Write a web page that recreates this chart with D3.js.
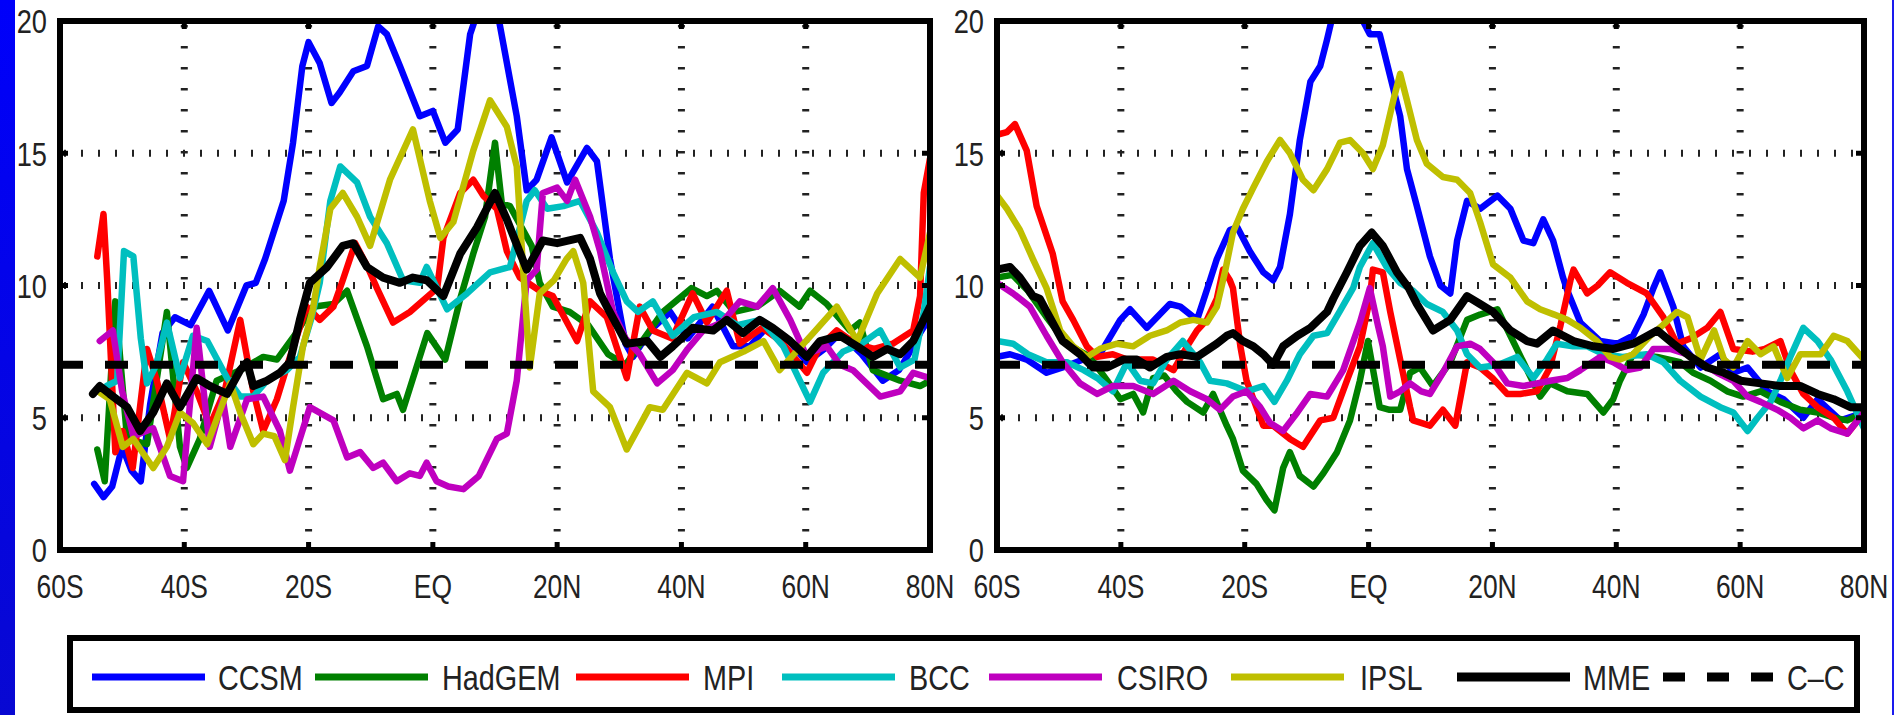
<!DOCTYPE html>
<html>
<head>
<meta charset="utf-8">
<script src="https://cdn.jsdelivr.net/npm/d3@7"></script>
<style>
  body { margin: 0; background: #fff; }
  text { font-family: "Liberation Sans", Arial, sans-serif; fill: #222; }
</style>
</head>
<body>
<div id="renderDiv"></div>
<script>
// ---- data: [latitude, value] ----
const latTicks = [-60, -40, -20, 0, 20, 40, 60, 80];
const latLabels = ["60S", "40S", "20S", "EQ", "20N", "40N", "60N", "80N"];
const yTicks = [0, 5, 10, 15, 20];
const ccValue = 7;

const modelNames = ["CCSM", "HadGEM", "MPI", "BCC", "CSIRO", "IPSL", "MME"];
const modelColors = ["#0000ff", "#008000", "#ff0000", "#00bfbf", "#bf00bf", "#bfbf00", "#000000"];

// left panel
const ccsmL = [[-54.5,2.5],[-53,2.0],[-51.6,2.4],[-50,3.9],[-48.5,3.0],[-47,2.6],[-45.5,5.5],[-43.5,8.2],[-41.5,8.8],[-39,8.5],[-36,9.8],[-33,8.3],[-30,10.0],[-28.5,10.1],[-27,11.0],[-24,13.2],[-22.5,15.4],[-21,18.3],[-20,19.2],[-18.2,18.4],[-16.3,16.9],[-15,17.3],[-12.8,18.1],[-10.6,18.3],[-8.8,19.8],[-7.4,19.5],[-5.3,18.3],[-2.1,16.4],[0,16.6],[2,15.4],[4,15.9],[6,19.5],[7,20.2],[9,20.6],[10.5,20.2],[13.5,16.4],[15.1,13.6],[16.7,14.0],[19.1,15.6],[21.6,13.9],[24.8,15.2],[26.4,14.7],[28.5,11.0],[31,7.8],[32.2,7.3],[35,8.3],[38.2,9.0],[41,8.0],[45,9.2],[48.3,7.7],[51,7.7],[54,8.5],[57,8.0],[60.2,7.1],[63,7.6],[65.5,8.2],[69,7.4],[72.4,6.4],[75,6.8],[76.3,7.3],[78.4,8.2],[80,8.8]];
const hadL = [[-54,3.8],[-52.8,2.6],[-51.1,9.4],[-49.2,4.2],[-46,4.0],[-42.8,9.0],[-40.7,3.9],[-39.6,3.1],[-37.5,4.2],[-34.8,6.4],[-31,6.8],[-27.3,7.3],[-25.1,7.2],[-22,8.2],[-19.3,9.2],[-16,9.3],[-13.8,9.8],[-10.6,7.7],[-8,5.7],[-5.8,5.9],[-4.8,5.3],[-0.9,8.2],[2,7.2],[4.4,9.5],[6.5,11.2],[8.4,12.6],[10,15.4],[11.1,13.1],[12.4,13.0],[15.9,11.5],[17.2,10.1],[19.3,9.2],[22,9.0],[25,8.5],[28.2,7.4],[31,7.0],[34,8.0],[37,9.0],[41.6,9.9],[44.1,9.6],[45.7,9.8],[48.5,9.0],[52.2,9.2],[55.8,9.8],[59,9.2],[60.7,9.8],[63.4,9.3],[67.1,8.3],[68.7,8.6],[70.8,6.8],[75.2,6.4],[78.4,6.2],[80,6.4]];
const mpiL = [[-54,11.1],[-53,12.7],[-52.4,10.2],[-51.1,3.7],[-49.9,4.5],[-48.3,3.1],[-46,7.6],[-44.4,6.4],[-42.3,4.2],[-40.2,7.1],[-38,6.0],[-35.9,4.7],[-33.5,6.0],[-31,8.7],[-28.9,6.0],[-27.3,4.5],[-25.1,5.7],[-23,7.3],[-20.3,9.2],[-18.2,8.7],[-16,9.2],[-14.5,10.2],[-12.5,11.6],[-10.5,10.7],[-9,9.9],[-6.4,8.6],[-3.7,9.0],[0.7,9.9],[1.7,11.8],[4.4,13.5],[6.5,14.0],[8.1,13.4],[10.3,12.9],[11.9,11.3],[14,10.3],[17.2,9.8],[19.3,9.6],[23.2,7.9],[25.3,9.4],[28,8.8],[31.2,6.5],[33.3,9.2],[35.4,8.3],[38.5,8.0],[41.8,9.7],[44.1,8.6],[47.3,9.8],[49.4,7.8],[53,8.4],[56,7.9],[60.2,6.7],[62.3,7.7],[65,8.3],[68,7.8],[71,7.6],[74,7.8],[77.3,8.3],[78.4,9.6],[79,13.5],[80,14.8]];
const bccL = [[-52.5,6.2],[-50.8,6.4],[-49.7,11.3],[-48.2,11.1],[-47,8.0],[-46,6.3],[-44.5,7.0],[-42.8,8.6],[-40.7,6.5],[-38.6,8.1],[-36.3,7.9],[-33.1,6.5],[-31,5.8],[-28.9,5.8],[-26.7,6.4],[-23.5,6.8],[-21.4,7.3],[-19.5,8.8],[-18.2,10.1],[-16.5,13.2],[-14.9,14.5],[-12.2,13.9],[-10.1,12.6],[-7.4,11.6],[-4.8,10.2],[-2.1,10.1],[-1,10.7],[2.3,9.1],[5.5,9.7],[9.2,10.5],[12.4,10.7],[15.1,13.2],[16.4,13.6],[18.4,12.9],[21,13.0],[23.7,13.2],[26.4,12.0],[29,10.5],[31.2,9.4],[33,9.0],[35.4,9.4],[38.6,8.1],[42,8.8],[45.7,9.0],[49,8.5],[52.7,8.7],[56.4,7.7],[60.7,5.6],[62.8,6.7],[66,7.5],[69,7.8],[72,8.3],[75.2,6.9],[77.5,7.2],[79,9.0],[80,10.7]];
const csiroL = [[-53.6,7.9],[-51.5,8.3],[-50,6.0],[-48.2,4.3],[-45,4.6],[-42.3,2.8],[-40.2,2.6],[-38,8.4],[-35.9,3.9],[-33.8,5.7],[-32.6,3.9],[-29.9,5.7],[-27.3,5.8],[-24.6,4.5],[-23,3.0],[-19.8,5.4],[-16,4.9],[-13.8,3.5],[-11.7,3.7],[-9.6,3.1],[-8,3.3],[-5.8,2.6],[-3.7,2.9],[-2.1,2.8],[-1,3.3],[0.6,2.6],[2.5,2.4],[4.9,2.3],[7.4,2.8],[10.3,4.2],[11.9,4.4],[13.5,6.4],[15.1,10.2],[16.7,10.6],[17.7,13.5],[20,13.7],[21.6,13.2],[22.9,14.0],[25.3,12.6],[26.9,11.3],[29,9.0],[31,8.0],[33.3,7.4],[36.1,6.3],[38.6,6.8],[41,7.6],[43.5,8.3],[46.5,8.6],[49.4,9.4],[52.2,9.2],[54.7,9.9],[57.5,8.7],[60,7.4],[63.4,7.7],[65.5,7.0],[67.6,6.8],[72,5.8],[75.2,6.0],[77.3,6.7],[80,6.5]];
const ipslL = [[-53.9,6.0],[-52,5.7],[-49.9,3.9],[-48.2,4.2],[-45,3.1],[-42.8,3.9],[-40.7,5.2],[-38.6,4.8],[-36.3,4.0],[-32.6,6.3],[-31,5.2],[-28.9,4.0],[-27.3,4.4],[-25.5,4.3],[-23.8,3.4],[-22.5,5.4],[-20.9,7.7],[-19.3,9.1],[-18.2,10.7],[-16.5,12.9],[-14.5,13.5],[-12.2,12.6],[-10.1,11.5],[-6.9,14.0],[-3.2,15.9],[-0.5,13.2],[1.2,11.8],[3.3,12.4],[6.5,15.1],[9.2,17.0],[11.9,16.0],[13.5,14.5],[14.5,10.7],[15.6,6.9],[17.2,9.7],[19.5,10.2],[21.5,11.0],[22.6,11.3],[24.2,10.1],[25.8,6.0],[28.5,5.4],[31.2,3.8],[34.9,5.4],[37,5.3],[40.9,6.7],[44.1,6.3],[46.2,7.1],[50,7.5],[53.2,7.9],[55.8,6.8],[58.5,7.5],[61.2,8.2],[65,9.2],[68.3,7.9],[71.5,9.7],[75.2,11.0],[78.4,10.3],[80,12.0]];
const mmeL = [[-54.7,5.9],[-53.6,6.2],[-52,5.9],[-49.2,5.4],[-47.1,4.5],[-45,5.2],[-42.8,6.3],[-40.7,5.4],[-38,6.5],[-35.9,6.2],[-33.1,5.9],[-31,6.8],[-29.9,7.1],[-28.9,6.2],[-26.7,6.4],[-24.6,6.7],[-23,7.1],[-21.4,8.7],[-19.8,10.1],[-17,10.7],[-14.5,11.5],[-12.8,11.6],[-10.6,10.7],[-8,10.3],[-5.3,10.1],[-3.2,10.3],[-1,10.2],[1.7,9.6],[4.4,11.2],[7.1,12.2],[10,13.5],[11.9,12.5],[15.1,10.6],[17.7,11.7],[20,11.6],[23.7,11.8],[25.3,11.0],[26.9,9.7],[28,9.2],[31.2,7.8],[34.5,7.9],[36.6,7.3],[38.6,7.7],[41.8,8.4],[45.1,8.3],[47.3,8.7],[49.9,8.2],[52.6,8.7],[54.7,8.4],[57.5,7.9],[60.2,7.3],[62.3,7.9],[65.5,8.1],[68.3,7.7],[70.8,7.3],[73.1,7.6],[75.2,7.4],[77.3,7.9],[80,9.2]];

// right panel
const ccsmR = [[-60,7.3],[-57.9,7.4],[-55.2,7.2],[-52,6.7],[-49.4,6.9],[-46.1,7.2],[-43.4,7.4],[-40.1,8.7],[-38.5,9.1],[-35.8,8.4],[-32.1,9.3],[-30.4,9.2],[-27.7,8.7],[-25.6,10.2],[-24.5,11.0],[-22.4,12.1],[-21.2,12.2],[-19.2,11.3],[-17,10.5],[-15.4,10.2],[-14.3,10.7],[-12.7,12.7],[-11.1,15.5],[-9.4,17.7],[-7.8,18.3],[-6.7,19.3],[-5.5,20.5],[-3.5,21.5],[-1.5,20.5],[-0.9,20.0],[0.2,19.5],[1.8,19.5],[3.5,17.9],[5.1,16.4],[6.2,14.4],[7.8,13.0],[9.9,11.1],[11.6,10.0],[13.2,9.7],[14.3,11.7],[15.9,13.2],[18,12.9],[20.8,13.4],[22.9,12.9],[25,11.7],[26.6,11.6],[28.2,12.5],[29.8,11.7],[31.4,10.3],[32.1,9.8],[34.2,8.6],[37.4,7.9],[40.2,7.8],[42.7,8.1],[44.4,8.9],[46,9.9],[47.1,10.5],[49.2,9.2],[50.8,7.7],[53.6,6.9],[56.8,7.4],[58.9,6.7],[61.2,6.9],[64.4,6.0],[67,5.7],[70.2,5.0],[72.5,5.7],[76.2,4.9],[80,5.2]];
const hadR = [[-60,10.3],[-57.5,10.4],[-55,9.8],[-52,8.8],[-48.7,7.8],[-45,7.3],[-42.2,6.4],[-40.1,5.7],[-38,5.9],[-36.4,5.2],[-34.8,6.5],[-33,6.6],[-31,6.0],[-29.3,5.6],[-26.7,5.2],[-25.1,5.9],[-22.9,4.7],[-21.9,4.2],[-20.3,3.0],[-18.1,2.5],[-16.5,1.9],[-15.2,1.5],[-13.8,3.1],[-12.7,3.7],[-11.1,2.8],[-8.9,2.4],[-7.3,2.9],[-5.1,3.7],[-3,4.9],[-1.4,6.4],[-0.1,7.9],[1.8,5.4],[3.4,5.3],[5.1,5.3],[6.7,6.7],[8.3,6.9],[10.4,6.2],[13.2,7.1],[15.9,8.7],[18,8.9],[20.8,9.1],[22.9,8.1],[25,7.1],[27.7,5.8],[29.3,6.3],[32.1,6.0],[35.3,5.9],[37.9,5.2],[39.5,5.7],[40.6,6.4],[42.7,7.4],[46.6,7.3],[50.3,7.1],[52.4,6.7],[55.2,6.4],[57.9,6.0],[60.5,5.8],[63.3,6.0],[66.5,5.6],[69.7,5.3],[72.5,5.2],[75.1,5.0],[77.3,4.9],[80,5.2]];
const mpiR = [[-60,15.7],[-58.4,15.8],[-57.1,16.1],[-55.2,15.1],[-53.6,13.0],[-51,11.2],[-49.4,9.4],[-47.7,8.7],[-45.5,7.7],[-43.8,7.3],[-41.3,7.4],[-39,7.2],[-36.9,7.2],[-34.8,7.2],[-31.5,6.8],[-29.3,7.7],[-27.7,8.3],[-26.1,8.7],[-24.5,9.5],[-23.5,10.6],[-22.4,10.2],[-21.9,9.9],[-20.7,7.7],[-19.7,6.4],[-17,4.7],[-15.4,4.7],[-12.7,4.2],[-10.6,3.9],[-7.8,4.9],[-5.7,5.0],[-3.5,6.4],[-1.4,7.7],[0.2,9.5],[0.7,10.6],[2.3,10.5],[3.5,9.0],[5.1,7.2],[6.7,5.4],[7.2,4.9],[9.9,4.7],[12,5.3],[14,4.7],[15.9,7.1],[18,6.9],[20,6.5],[22.4,5.9],[24.5,5.9],[27.2,6.0],[29.3,6.9],[31,8.5],[32.6,10.2],[33.1,10.6],[35.3,9.7],[37,10.0],[39,10.5],[41.7,10.1],[44.9,9.7],[47.6,8.8],[49.8,7.8],[52,8.0],[54.7,8.4],[56.8,9.0],[58.9,7.6],[62,7.5],[64,7.6],[66.5,7.9],[68.1,6.8],[70.2,5.9],[72.5,5.4],[75.1,5.0],[77.3,4.4],[80,5.2]];
const bccR = [[-60,7.9],[-57.4,7.8],[-55,7.4],[-52,7.1],[-48.7,7.1],[-46,6.8],[-43.8,6.5],[-41.3,6.0],[-39,7.1],[-36.9,6.4],[-34.8,6.3],[-32.6,7.2],[-30,7.9],[-27.2,7.1],[-25.6,6.4],[-22.9,6.3],[-19.7,6.0],[-17,6.2],[-15.2,5.6],[-13.2,6.4],[-11.1,7.4],[-8.9,8.1],[-6.7,8.2],[-4.7,9.0],[-2.5,9.9],[-1.4,10.7],[0.7,11.6],[2.9,10.7],[5.1,10.1],[7.2,9.8],[9.4,9.3],[12,9.0],[14.3,8.3],[15.9,7.4],[18,6.9],[21,7.0],[24,7.3],[26.6,6.5],[28.8,7.2],[30.4,7.8],[33,7.7],[35.3,7.7],[38,7.4],[41,7.3],[44.9,7.4],[47.6,7.1],[50.3,6.4],[53.6,5.8],[56.8,5.4],[58.9,5.2],[61.2,4.5],[62.8,5.0],[64.9,5.6],[66.5,6.4],[68.1,7.3],[70.2,8.4],[72.5,7.9],[74.6,7.2],[77.3,6.0],[80,4.6]];
const csiroR = [[-60,10.1],[-57.4,9.7],[-54.7,9.2],[-52,8.1],[-49.4,7.1],[-46.6,6.3],[-43.8,5.9],[-41.3,6.2],[-38,6.2],[-34.8,5.9],[-31.5,6.4],[-28.8,6.0],[-26.1,5.7],[-24,5.3],[-21.9,5.8],[-19.7,6.0],[-17.5,5.4],[-15.9,4.8],[-13.8,4.5],[-11.5,5.2],[-9.4,5.9],[-6.7,5.8],[-4.1,6.8],[-1.4,8.6],[0.2,9.9],[1.5,8.5],[2.3,7.7],[3.5,5.8],[5.1,6.0],[6.7,6.3],[8.5,6.0],[9.9,5.9],[12,6.7],[14.3,7.7],[16.4,7.8],[18,7.6],[20.1,7.1],[22.4,6.3],[25,6.2],[27.2,6.3],[29.3,6.4],[32.1,6.5],[34.2,6.8],[37.4,7.3],[39.5,7.1],[41.7,6.8],[43.9,6.9],[46,7.6],[48.7,7.6],[51.5,7.4],[53.6,7.1],[56.3,6.7],[58.9,6.4],[61.2,5.8],[63.3,5.6],[66,5.3],[68.1,5.0],[70.2,4.6],[72.5,4.9],[74.6,4.6],[77.3,4.4],[80,5.2]];
const ipslR = [[-60,13.4],[-58.4,12.9],[-56.3,12.1],[-54.2,11.0],[-52,9.9],[-49.8,8.3],[-47.7,7.7],[-45.5,7.3],[-43.4,7.6],[-40.6,7.8],[-38,7.7],[-35.3,8.1],[-32.6,8.3],[-30.4,8.6],[-28.3,8.7],[-26.1,8.6],[-24.5,9.2],[-23.2,10.5],[-21.9,12.0],[-20.3,12.9],[-18.6,13.7],[-16.4,14.7],[-14.3,15.5],[-12.7,15.0],[-10.6,14.0],[-8.9,13.6],[-6.7,14.4],[-4.6,15.4],[-3,15.5],[-0.9,15.0],[0.7,14.4],[2.3,15.3],[4,17.0],[5.1,18.0],[6.2,17.0],[7.8,15.5],[9.4,14.6],[12,14.1],[14.3,14.0],[16.4,13.5],[18,12.4],[20.1,10.8],[22.9,10.3],[25.6,9.4],[27.7,9.1],[30,8.9],[32.1,8.7],[34.2,8.4],[36.9,7.9],[39,7.3],[40.6,7.2],[42.7,7.4],[45.5,8.1],[47.5,8.5],[49.8,9.0],[51.5,8.8],[53.6,7.2],[55.8,8.3],[57.4,7.2],[58.9,6.9],[61.2,7.9],[63.3,7.4],[65.4,7.7],[67.6,6.5],[69.7,7.4],[73,7.4],[75.1,8.1],[77.3,7.9],[80,7.2]];
const mmeR = [[-60,10.6],[-57.9,10.7],[-56.3,10.3],[-54.2,9.6],[-53.1,9.5],[-51.5,8.8],[-49.4,7.9],[-46.6,7.4],[-44.5,6.9],[-42.2,6.9],[-39.6,7.2],[-37.4,7.2],[-35.3,6.9],[-32.6,7.3],[-30.4,7.4],[-27.7,7.3],[-24.5,7.8],[-22.9,8.1],[-21.9,8.2],[-20.3,7.9],[-18.6,7.7],[-17,7.4],[-15.4,7.0],[-13.8,7.7],[-11.5,8.1],[-9.4,8.4],[-6.7,9.0],[-5.7,9.5],[-3.5,10.5],[-1.4,11.5],[0.5,12.0],[2.3,11.5],[4.6,10.5],[6.5,9.9],[7.8,9.3],[10.4,8.3],[13.2,8.7],[15.9,9.6],[18,9.3],[20.1,9.0],[22.9,8.3],[25.6,7.9],[27.2,7.8],[29.8,8.3],[33.1,7.9],[36.3,7.7],[39.5,7.6],[42.7,7.8],[46.6,8.3],[49.2,7.8],[52,7.3],[54.7,6.9],[57.4,6.7],[60.1,6.4],[63.3,6.3],[66.5,6.2],[69.7,6.2],[72.5,5.9],[75.1,5.7],[77.8,5.4],[80,5.4]];

const leftSeries = [ccsmL, hadL, mpiL, bccL, csiroL, ipslL, mmeL];
const rightSeries = [ccsmR, hadR, mpiR, bccR, csiroR, ipslR, mmeR];

// ---- layout ----
const WIDTH = 1895, HEIGHT = 715;
const plotTop = 21, plotBottom = 550;
const NARROW = 0.8; // no narrow font installed -> squeeze Liberation Sans

let svg = d3.select("#renderDiv").append("svg")
    .attr("width", WIDTH).attr("height", HEIGHT)
    .style("display", "block")
    .style("background-color", "#fff");
let defs = svg.append("defs");

// condensed text placed at (x, y)
function narrowText(sel, x, y) {
    return sel.attr("transform", "translate(" + x + "," + y + ") scale(" + NARROW + ",1)");
}

// blue slide edge on the left, thin one on the right
let grad = defs.append("linearGradient")
    .attr("id", "edgeGrad").attr("x1", 0).attr("y1", 0).attr("x2", 0).attr("y2", 1);
grad.append("stop").attr("offset", "0%").attr("stop-color", "#0000fa");
grad.append("stop").attr("offset", "100%").attr("stop-color", "#0808d2");
svg.append("rect").attr("x", 0).attr("y", 0).attr("width", 15).attr("height", HEIGHT)
    .attr("fill", "url(#edgeGrad)");
svg.append("rect").attr("x", 1892).attr("y", 0).attr("width", 2).attr("height", HEIGHT)
    .attr("fill", "#1a1aee");

function drawPanel(id, x0, x1, series) {
    let xScale = d3.scaleLinear().domain([-60, 80]).range([x0, x1]);
    let yScale = d3.scaleLinear().domain([0, 20]).range([plotBottom, plotTop]);
    let g = svg.append("g").attr("id", id);

    defs.append("clipPath").attr("id", "clip_" + id)
        .append("rect")
        .attr("x", x0).attr("y", plotTop)
        .attr("width", x1 - x0).attr("height", plotBottom - plotTop);

    // dotted grid (MATLAB style)
    g.append("g").selectAll("line")
        .data(latTicks.slice(1, -1))
        .enter().append("line")
        .attr("x1", d => xScale(d)).attr("x2", d => xScale(d))
        .attr("y1", plotTop + 4).attr("y2", plotBottom)
        .attr("stroke", "#222").attr("stroke-width", 7)
        .attr("stroke-dasharray", "2.5,18.5");
    g.append("g").selectAll("line")
        .data(yTicks.slice(1, -1))
        .enter().append("line")
        .attr("x1", x0 + 4).attr("x2", x1)
        .attr("y1", d => yScale(d)).attr("y2", d => yScale(d))
        .attr("stroke", "#222").attr("stroke-width", 7)
        .attr("stroke-dasharray", "2,15");

    let line = d3.line()
        .x(d => xScale(d[0]))
        .y(d => yScale(d[1]));

    let lines = g.append("g").attr("clip-path", "url(#clip_" + id + ")");
    series.forEach(function (s, i) {
        lines.append("path")
            .datum(s)
            .attr("d", line)
            .attr("fill", "none")
            .attr("stroke", modelColors[i])
            .attr("stroke-width", i === 6 ? 8 : 6.5)
            .attr("stroke-linejoin", "round")
            .attr("stroke-linecap", "round");
    });

    // C-C reference
    lines.append("line")
        .attr("x1", x0).attr("x2", x1)
        .attr("y1", yScale(ccValue)).attr("y2", yScale(ccValue))
        .attr("stroke", "#000").attr("stroke-width", 8)
        .attr("stroke-dasharray", "23,22");

    // frame
    g.append("rect")
        .attr("x", x0).attr("y", plotTop)
        .attr("width", x1 - x0).attr("height", plotBottom - plotTop)
        .attr("fill", "none").attr("stroke", "#000").attr("stroke-width", 6);

    // inward ticks
    let tk = g.append("g").attr("stroke", "#000").attr("stroke-width", 5);
    latTicks.forEach(function (d) {
        tk.append("line").attr("x1", xScale(d)).attr("x2", xScale(d))
            .attr("y1", plotBottom).attr("y2", plotBottom - 8);
        tk.append("line").attr("x1", xScale(d)).attr("x2", xScale(d))
            .attr("y1", plotTop).attr("y2", plotTop + 8);
    });
    yTicks.forEach(function (d) {
        tk.append("line").attr("x1", x0).attr("x2", x0 + 8)
            .attr("y1", yScale(d)).attr("y2", yScale(d));
        tk.append("line").attr("x1", x1).attr("x2", x1 - 8)
            .attr("y1", yScale(d)).attr("y2", yScale(d));
    });

    // tick labels
    g.append("g").selectAll("text")
        .data(latTicks)
        .enter().append("text")
        .each(function (d) { narrowText(d3.select(this), xScale(d), 598); })
        .attr("text-anchor", "middle")
        .attr("font-size", "33px")
        .text((d, i) => latLabels[i]);
    g.append("g").selectAll("text")
        .data(yTicks)
        .enter().append("text")
        .each(function (d) { narrowText(d3.select(this), x0 - 13, yScale(d)); })
        .attr("dy", "0.36em")
        .attr("text-anchor", "end")
        .attr("font-size", "34px")
        .text(d => d);
}

drawPanel("left", 60, 930, leftSeries);
drawPanel("right", 997, 1864, rightSeries);

// ---- legend ----
const legendLineX = [92, 315, 576, 782, 989, 1231, 1457, 1663];
const legendLineLen = 113;
const legendTextX = [218, 442, 703, 909, 1117, 1360, 1583, 1787];
const legendY = 677;

let legend = svg.append("g").attr("id", "legend");
legend.append("rect")
    .attr("x", 70).attr("y", 638).attr("width", 1787).attr("height", 72)
    .attr("fill", "#fff").attr("stroke", "#000").attr("stroke-width", 6);

modelNames.concat(["C\u2013C"]).forEach(function (name, i) {
    let isCC = i === modelNames.length;
    legend.append("line")
        .attr("x1", legendLineX[i]).attr("x2", legendLineX[i] + legendLineLen)
        .attr("y1", legendY).attr("y2", legendY)
        .attr("stroke", isCC ? "#000" : modelColors[i])
        .attr("stroke-width", (isCC || i === 6) ? 9 : 7)
        .attr("stroke-dasharray", isCC ? "22,22" : null);
    narrowText(legend.append("text"), legendTextX[i], 690)
        .attr("font-size", "36px")
        .text(name);
});
</script>
</body>
</html>
